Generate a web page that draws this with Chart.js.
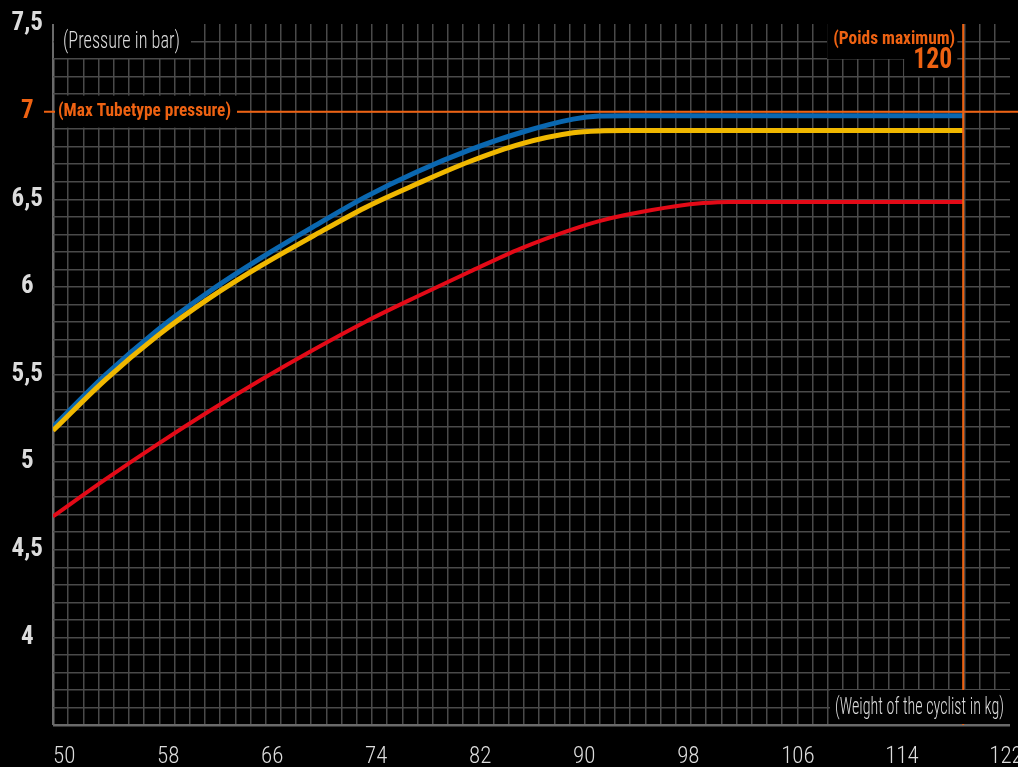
<!DOCTYPE html>
<html>
<head>
<meta charset="utf-8">
<script src="https://cdn.jsdelivr.net/npm/chart.js@4.4.1/dist/chart.umd.min.js"></script>
<style>
    html, body { margin: 0; padding: 0; background: #000; }
    #wrap { width: 1018px; height: 767px; position: relative; }
</style>
</head>
<body>
<div id="wrap"><canvas id="pressureChart"></canvas></div>
<script>
// weight of the cyclist (kg)
const weights = [50, 54, 58, 62, 66, 70, 74, 78, 82, 86, 90, 92, 94, 98, 100, 102, 106, 110, 114, 120];
// pressure (bar) per curve
const bluePressure   = [5.20, 5.495, 5.752, 5.972, 6.165, 6.342, 6.512, 6.657, 6.780, 6.881, 6.957, 6.975, 6.977, 6.977, 6.977, 6.977, 6.977, 6.977, 6.977, 6.977];
const yellowPressure = [5.18, 5.468, 5.719, 5.934, 6.121, 6.290, 6.452, 6.588, 6.714, 6.816, 6.879, 6.890, 6.892, 6.892, 6.892, 6.892, 6.892, 6.892, 6.892, 6.892];
const redPressure    = [4.69, 4.90, 5.10, 5.29, 5.47, 5.64, 5.80, 5.945, 6.085, 6.22, 6.33, 6.375, 6.41, 6.462, 6.478, 6.485, 6.485, 6.485, 6.485, 6.485];

const xTickValues = [50, 58, 66, 74, 82, 90, 98, 106, 114, 122];
const yTickValues = [4, 4.5, 5, 5.5, 6, 6.5, 7, 7.5];

const maxPressure = 7;
const maxWeight = 120;

const orange = '#ee6212';
const gridColor = '#4a4a4a';
const textColor = '#dcdcdc';

// pick the narrowest installed family, the original uses a condensed face
function pickFamily() {
    const candidates = ['Noto Sans ExtraCondensed', 'Noto Sans Condensed', 'Noto Sans SemiCondensed',
        'DejaVu Sans Condensed', 'Liberation Sans Narrow', 'Roboto Condensed', 'Noto Sans'];
    const c = document.createElement('canvas').getContext('2d');
    let best = 'Noto Sans';
    let bestW = Infinity;
    candidates.forEach(f => {
        c.font = `20px '${f}', monospace`;
        const w = c.measureText('(Weight of the cyclist in kg) 0123456789').width;
        if (w < bestW) { bestW = w; best = f; }
    });
    return best;
}
const family = `'${pickFamily()}', 'Noto Sans', sans-serif`;

function toPoints(values) {
    return weights.map((w, i) => ({ x: w, y: values[i] }));
}

function drawBox(ctx, box) {
    ctx.fillStyle = '#000';
    ctx.fillRect(box[0], box[1], box[2], box[3]);
}

function drawText(ctx, text, opts) {
    ctx.font = opts.font;
    const w = ctx.measureText(text).width;
    const sx = Math.min(1, opts.width / w);
    ctx.save();
    ctx.translate(opts.x, opts.y);
    ctx.scale(sx, 1);
    ctx.fillStyle = opts.color;
    ctx.textAlign = opts.align;
    ctx.textBaseline = 'middle';
    ctx.fillText(text, 0, 0);
    ctx.restore();
}

function noPadding(scale) {
    scale.paddingLeft = 0;
    scale.paddingRight = 0;
    scale.paddingTop = 0;
    scale.paddingBottom = 0;
}

const annotations = {
    id: 'annotations',
    afterDatasetsDraw(chart) {
        const { ctx, chartArea: area, scales: { x, y } } = chart;
        const yMax = y.getPixelForValue(maxPressure);
        const xMax = x.getPixelForValue(maxWeight);
        ctx.save();
        ctx.strokeStyle = orange;
        ctx.lineWidth = 2;
        ctx.beginPath();
        ctx.moveTo(area.left - 9, yMax);
        ctx.lineTo(chart.width, yMax);
        ctx.moveTo(xMax, area.top);
        ctx.lineTo(xMax, area.bottom);
        ctx.stroke();
        ctx.restore();
    },
    afterDraw(chart) {
        const { ctx, chartArea: area, scales: { x, y } } = chart;
        const yMax = y.getPixelForValue(maxPressure);
        const xMax = x.getPixelForValue(maxWeight);
        ctx.save();

        // black patches behind the labels
        drawBox(ctx, [area.left + 1, area.top, 137, 34]);
        drawBox(ctx, [area.left + 2, yMax - 16, 182, 32]);
        drawBox(ctx, [xMax - 136, area.top, 130, 35]);
        drawBox(ctx, [xMax - 59, area.top, 53, 52]);
        drawBox(ctx, [area.right - 180, area.bottom - 35, 180, 34]);

        drawText(ctx, '(Pressure in bar)', {
            font: `300 23px ${family}`, color: textColor, align: 'left', width: 117,
            x: area.left + 10, y: area.top + 18
        });
        drawText(ctx, '(Max Tubetype pressure)', {
            font: `bold 19px ${family}`, color: orange, align: 'left', width: 173,
            x: area.left + 5, y: yMax
        });
        drawText(ctx, '(Poids maximum)', {
            font: `bold 19px ${family}`, color: orange, align: 'right', width: 122,
            x: xMax - 8, y: area.top + 15
        });
        drawText(ctx, String(maxWeight), {
            font: `bold 29px ${family}`, color: orange, align: 'right', width: 39,
            x: xMax - 11, y: area.top + 37
        });
        drawText(ctx, '(Weight of the cyclist in kg)', {
            font: `300 23px ${family}`, color: textColor, align: 'right', width: 169,
            x: area.right - 6, y: area.bottom - 17
        });

        ctx.restore();
    }
};

const ctx = document.getElementById('pressureChart').getContext('2d');
new Chart(ctx, {
    type: 'line',
    data: {
        datasets: [
            {
                label: 'Yellow',
                data: toPoints(yellowPressure),
                borderColor: '#f0b800',
                borderWidth: 5
            },
            {
                label: 'Blue',
                data: toPoints(bluePressure),
                borderColor: '#0a67b0',
                borderWidth: 5
            },
            {
                label: 'Red',
                data: toPoints(redPressure),
                borderColor: '#e30a17',
                borderWidth: 4
            }
        ]
    },
    options: {
        responsive: true,
        maintainAspectRatio: false,
        devicePixelRatio: 1,
        animation: false,
        layout: { padding: { top: 24, right: 8, left: 0, bottom: 0 } },
        elements: {
            point: { radius: 0 },
            line: { cubicInterpolationMode: 'monotone', borderCapStyle: 'butt' }
        },
        plugins: {
            legend: { display: false },
            tooltip: { enabled: false }
        },
        scales: {
            x: {
                type: 'linear',
                position: 'bottom',
                min: 50,
                max: 123.6,
                border: { display: false },
                grid: { display: false },
                afterBuildTicks: (scale) => {
                    scale.ticks = xTickValues.map(v => ({ value: v }));
                },
                afterFit: (scale) => { scale.height = 42; noPadding(scale); },
                ticks: {
                    align: 'start',
                    autoSkip: false,
                    maxRotation: 0,
                    padding: 10,
                    color: textColor,
                    font: { family, size: 23, weight: 300 },
                    callback: (v) => String(v)
                }
            },
            xg: {
                type: 'linear',
                position: 'top',
                min: 0,
                max: 63,
                border: { display: false },
                afterFit: (scale) => { scale.height = 0; noPadding(scale); },
                ticks: { display: false, stepSize: 1, autoSkip: false },
                grid: {
                    drawTicks: false,
                    color: (c) => c.tick.value === 0 ? '#6a6a6a' : (c.tick.value === 63 ? 'rgba(0,0,0,0)' : gridColor),
                    lineWidth: (c) => c.tick.value === 0 ? 2.5 : 1.5
                }
            },
            y: {
                type: 'linear',
                min: 3.5,
                max: 7.5,
                border: { display: false },
                afterFit: (scale) => { scale.width = 53; noPadding(scale); },
                grid: {
                    drawTicks: false,
                    color: (c) => {
                        const v = Math.round(c.tick.value * 10);
                        if (v === 75) return 'rgba(0,0,0,0)';
                        if (v === 35) return '#6a6a6a';
                        return gridColor;
                    },
                    lineWidth: (c) => Math.round(c.tick.value * 10) === 35 ? 2.5 : 1.5
                },
                ticks: {
                    stepSize: 0.1,
                    autoSkip: false,
                    crossAlign: 'center',
                    padding: 10,
                    color: (c) => c.tick.value === maxPressure ? orange : textColor,
                    font: { family, size: 25, weight: 'bold' },
                    callback: (v) => {
                        const hit = yTickValues.find(t => Math.abs(t - v) < 1e-6);
                        return hit === undefined ? '' : String(hit).replace('.', ',');
                    }
                }
            }
        }
    },
    plugins: [annotations]
});
</script>
</body>
</html>
